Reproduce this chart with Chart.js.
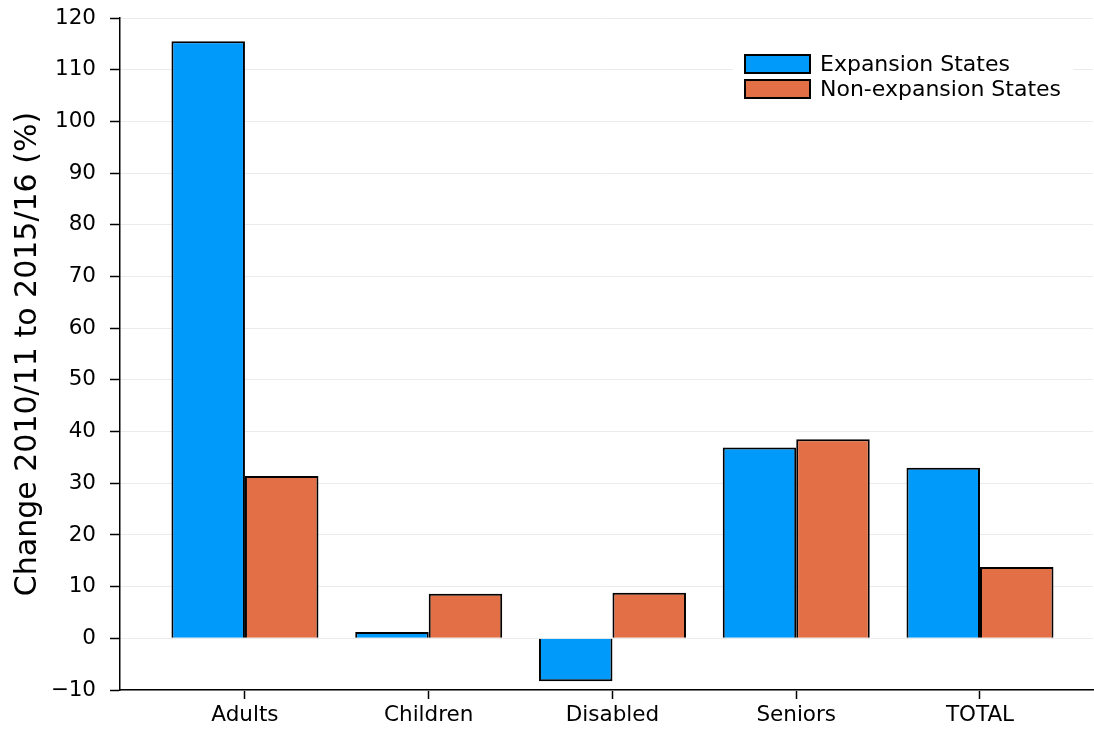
<!DOCTYPE html>
<html>
<head>
<meta charset="utf-8">
<script src="https://cdn.jsdelivr.net/npm/chart.js@4"></script>
<style>
  html, body { margin: 0; padding: 0; background: #fff; }
  #wrap { width: 1094px; height: 731px; }
</style>
</head>
<body>
<div id="wrap"><canvas id="chart" width="1094" height="731"></canvas></div>
<script>
const CATEGORIES = ['Adults', 'Children', 'Disabled', 'Seniors', 'TOTAL'];
const EXPANSION = [115.5, 1.2, -8.3, 36.9, 33.0];
const NON_EXPANSION = [31.4, 8.6, 8.8, 38.5, 13.8];
const SERIES_NAMES = ['Expansion States', 'Non-expansion States'];
const Y_TICKS = [-10, 0, 10, 20, 30, 40, 50, 60, 70, 80, 90, 100, 110, 120];

const FONT = 'DejaVu Sans';

// legend drawn inside the plot, top right, like the original
const insideLegend = {
    id: 'insideLegend',
    afterDraw(chart) {
        const ctx = chart.ctx;
        const x0 = 733, y0 = 49, w = 340, h = 55;
        ctx.save();
        ctx.fillStyle = '#ffffff';
        ctx.fillRect(x0, y0, w, h);
        ctx.font = '22px ' + FONT;
        ctx.textBaseline = 'middle';
        chart.data.datasets.forEach((ds, i) => {
            const sy = 55 + i * 25;
            ctx.fillStyle = ds.backgroundColor;
            ctx.fillRect(745, sy, 65, 18);
            ctx.strokeStyle = '#000';
            ctx.lineWidth = 2;
            ctx.strokeRect(745, sy, 65, 18);
            ctx.fillStyle = '#000';
            ctx.fillText(ds.label, 820, sy + 10);
        });
        ctx.restore();
    }
};

new Chart(document.getElementById('chart'), {
    type: 'bar',
    data: {
        datasets: [
            {
                label: SERIES_NAMES[0],
                data: EXPANSION.map((v, i) => ({ x: i + 1, y: v })),
                backgroundColor: '#009afa',
                borderColor: '#000',
                borderWidth: 2
            },
            {
                label: SERIES_NAMES[1],
                data: NON_EXPANSION.map((v, i) => ({ x: i + 1, y: v })),
                backgroundColor: '#e26f46',
                borderColor: '#000',
                borderWidth: 2
            }
        ]
    },
    options: {
        responsive: false,
        animation: false,
        categoryPercentage: 0.8,
        barPercentage: 1.0,
        layout: { padding: { top: 18, right: 1, left: 0, bottom: 0 } },
        plugins: {
            legend: { display: false },
            tooltip: { enabled: false }
        },
        scales: {
            x: {
                type: 'linear',
                offset: false,
                min: 0.32,
                max: 5.615,
                afterBuildTicks: (scale) => {
                    scale.ticks = CATEGORIES.map((c, i) => ({ value: i + 1 }));
                },
                afterFit: (scale) => {
                    scale.height = 41;
                    scale.paddingLeft = 0;
                    scale.paddingRight = 0;
                },
                ticks: {
                    callback: (v) => CATEGORIES[v - 1] || '',
                    color: '#000',
                    font: { family: FONT, size: 21.5 },
                    padding: 4,
                    maxRotation: 0,
                    autoSkip: false
                },
                grid: {
                    offset: false,
                    drawOnChartArea: false,
                    tickColor: '#000',
                    tickLength: 9,
                    tickWidth: 1.5
                },
                border: { color: '#000', width: 1.5 }
            },
            y: {
                min: -10,
                max: 120,
                afterBuildTicks: (scale) => {
                    scale.ticks = Y_TICKS.map(v => ({ value: v }));
                },
                afterFit: (scale) => {
                    scale.width = 120;
                    scale.paddingTop = 0;
                    scale.paddingBottom = 0;
                },
                ticks: {
                    callback: (v) => v < 0 ? '\u2212' + Math.abs(v) : String(v),
                    color: '#000',
                    font: { family: FONT, size: 21.5 },
                    padding: 14,
                    autoSkip: false
                },
                grid: {
                    color: '#ebebeb',
                    lineWidth: 1,
                    tickColor: '#000',
                    tickLength: 10,
                    tickWidth: 1.5
                },
                border: { color: '#000', width: 1.5 },
                title: {
                    display: true,
                    text: 'Change 2010/11 to 2015/16 (%)',
                    color: '#000',
                    font: { family: FONT, size: 30 },
                    padding: { top: 10, bottom: 0 }
                }
            }
        }
    },
    plugins: [insideLegend]
});
</script>
</body>
</html>
